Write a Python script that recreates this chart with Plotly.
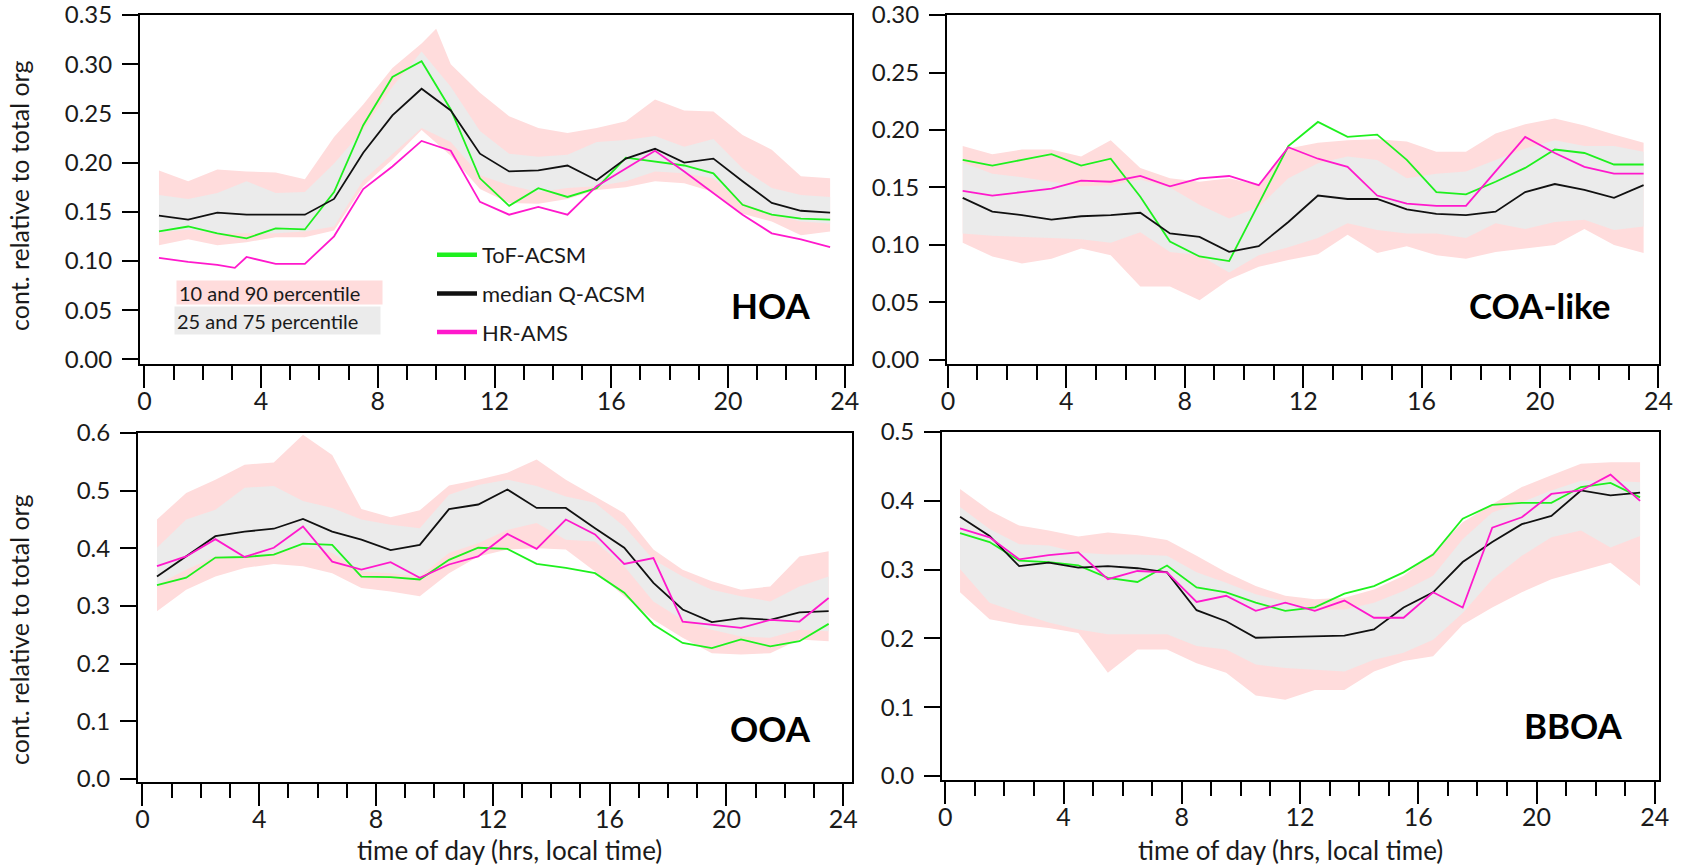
import plotly.graph_objects as go

W, H = 1687, 868

# ---------------- data ----------------
HOURS = [0.5, 1.5, 2.5, 3.5, 4.5, 5.5, 6.5, 7.5, 8.5, 9.5, 10.5, 11.5,
         12.5, 13.5, 14.5, 15.5, 16.5, 17.5, 18.5, 19.5, 20.5, 21.5, 22.5, 23.5]
HOA_AMS_HOURS = [0.5, 1.5, 2.5, 3.1, 3.5, 4.5, 5.5, 6.5, 7.5, 8.5, 9.5, 10.5, 11.5,
                 12.5, 13.5, 14.5, 15.5, 16.5, 17.5, 18.5, 19.5, 20.5, 21.5, 22.5, 23.5]
HOA_P90_HOURS = [0.5, 1.5, 2.5, 3.5, 4.5, 5.5, 6.5, 7.5, 8.5, 9.5, 10.0, 10.5, 11.5,
                 12.5, 13.5, 14.5, 15.5, 16.5, 17.5, 18.5, 19.5, 20.5, 21.5, 22.5, 23.5]

# HOA
hoa_tof = [0.130, 0.135, 0.128, 0.123, 0.133, 0.132, 0.170, 0.238, 0.287, 0.303, 0.254, 0.184,
           0.156, 0.174, 0.165, 0.174, 0.205, 0.201, 0.197, 0.189, 0.157, 0.147, 0.143, 0.142]
hoa_med = [0.146, 0.142, 0.149, 0.147, 0.147, 0.147, 0.163, 0.210, 0.248, 0.275, 0.253, 0.209,
           0.191, 0.192, 0.197, 0.182, 0.204, 0.214, 0.200, 0.204, 0.181, 0.159, 0.151, 0.149]
hoa_ams = [0.103, 0.099, 0.096, 0.093, 0.104, 0.097, 0.097, 0.125, 0.173, 0.196, 0.222, 0.212, 0.160,
           0.147, 0.155, 0.147, 0.176, 0.194, 0.212, 0.191, 0.169, 0.147, 0.128, 0.122, 0.114]
hoa_p90 = [0.192, 0.181, 0.193, 0.191, 0.190, 0.183, 0.226, 0.259, 0.296, 0.321, 0.336, 0.300, 0.271,
           0.247, 0.235, 0.230, 0.235, 0.242, 0.264, 0.253, 0.252, 0.228, 0.213, 0.186, 0.184]
hoa_p75 = [0.167, 0.163, 0.169, 0.181, 0.169, 0.170, 0.199, 0.233, 0.277, 0.313, 0.277, 0.232,
           0.209, 0.206, 0.208, 0.221, 0.223, 0.227, 0.216, 0.224, 0.194, 0.174, 0.167, 0.165]
hoa_p25 = [0.129, 0.132, 0.128, 0.128, 0.128, 0.130, 0.135, 0.182, 0.209, 0.235, 0.221, 0.187,
           0.177, 0.170, 0.174, 0.176, 0.181, 0.191, 0.189, 0.184, 0.159, 0.147, 0.140, 0.138]
hoa_p10 = [0.116, 0.122, 0.116, 0.119, 0.124, 0.124, 0.131, 0.176, 0.203, 0.233, 0.207, 0.173,
           0.159, 0.158, 0.163, 0.172, 0.175, 0.181, 0.179, 0.170, 0.148, 0.140, 0.126, 0.130]

# COA-like
coa_tof = [0.174, 0.169, 0.174, 0.179, 0.169, 0.175, 0.142, 0.103, 0.090, 0.086, 0.136, 0.186,
           0.207, 0.194, 0.196, 0.174, 0.146, 0.144, 0.155, 0.167, 0.183, 0.180, 0.170, 0.170]
coa_med = [0.141, 0.129, 0.126, 0.122, 0.125, 0.126, 0.128, 0.110, 0.107, 0.094, 0.099, 0.120,
           0.143, 0.140, 0.140, 0.131, 0.127, 0.126, 0.129, 0.146, 0.153, 0.148, 0.141, 0.152]
coa_ams = [0.147, 0.143, 0.146, 0.149, 0.156, 0.155, 0.160, 0.151, 0.158, 0.160, 0.152, 0.185,
           0.175, 0.168, 0.143, 0.136, 0.134, 0.134, 0.164, 0.194, 0.180, 0.168, 0.162, 0.162]
coa_p90 = [0.186, 0.179, 0.183, 0.183, 0.177, 0.191, 0.167, 0.158, 0.155, 0.158, 0.152, 0.184,
           0.189, 0.191, 0.192, 0.190, 0.181, 0.181, 0.197, 0.205, 0.210, 0.204, 0.196, 0.189]
coa_p75 = [0.172, 0.162, 0.159, 0.155, 0.151, 0.152, 0.157, 0.150, 0.135, 0.123, 0.133, 0.158,
           0.171, 0.177, 0.174, 0.158, 0.162, 0.164, 0.174, 0.184, 0.191, 0.186, 0.186, 0.181]
coa_p25 = [0.110, 0.108, 0.107, 0.106, 0.105, 0.102, 0.111, 0.094, 0.091, 0.076, 0.091, 0.098,
           0.106, 0.119, 0.113, 0.110, 0.110, 0.106, 0.119, 0.114, 0.120, 0.122, 0.113, 0.116]
coa_p10 = [0.102, 0.090, 0.084, 0.088, 0.097, 0.091, 0.064, 0.064, 0.052, 0.070, 0.081, 0.087,
           0.092, 0.109, 0.093, 0.099, 0.091, 0.088, 0.094, 0.097, 0.100, 0.114, 0.100, 0.093]

# OOA
ooa_tof = [0.336, 0.349, 0.384, 0.385, 0.389, 0.408, 0.406, 0.351, 0.350, 0.346, 0.380, 0.401,
           0.399, 0.373, 0.366, 0.357, 0.323, 0.268, 0.236, 0.227, 0.242, 0.230, 0.239, 0.269]
ooa_med = [0.351, 0.386, 0.421, 0.429, 0.434, 0.451, 0.429, 0.415, 0.397, 0.406, 0.468, 0.476,
           0.502, 0.470, 0.470, 0.435, 0.401, 0.340, 0.294, 0.272, 0.279, 0.276, 0.289, 0.291]
ooa_ams = [0.369, 0.386, 0.416, 0.385, 0.401, 0.438, 0.377, 0.363, 0.376, 0.349, 0.372, 0.386,
           0.425, 0.399, 0.450, 0.424, 0.373, 0.383, 0.273, 0.268, 0.262, 0.276, 0.273, 0.314]
ooa_p90 = [0.450, 0.496, 0.519, 0.545, 0.549, 0.597, 0.562, 0.468, 0.454, 0.466, 0.509, 0.519,
           0.531, 0.554, 0.519, 0.490, 0.461, 0.398, 0.363, 0.343, 0.328, 0.334, 0.386, 0.395]
ooa_p75 = [0.401, 0.450, 0.467, 0.505, 0.508, 0.482, 0.470, 0.450, 0.441, 0.435, 0.493, 0.510,
           0.519, 0.508, 0.490, 0.479, 0.438, 0.380, 0.351, 0.328, 0.317, 0.308, 0.334, 0.351]
ooa_p25 = [0.337, 0.363, 0.386, 0.386, 0.392, 0.403, 0.392, 0.360, 0.357, 0.351, 0.392, 0.409,
           0.432, 0.444, 0.415, 0.412, 0.369, 0.308, 0.276, 0.259, 0.247, 0.245, 0.259, 0.256]
ooa_p10 = [0.291, 0.328, 0.351, 0.366, 0.373, 0.369, 0.357, 0.331, 0.325, 0.317, 0.357, 0.386,
           0.398, 0.400, 0.398, 0.360, 0.317, 0.276, 0.245, 0.218, 0.216, 0.218, 0.242, 0.239]

# BBOA
bb_tof = [0.353, 0.340, 0.313, 0.311, 0.306, 0.288, 0.282, 0.306, 0.274, 0.267, 0.252, 0.240,
          0.245, 0.265, 0.276, 0.296, 0.322, 0.374, 0.394, 0.397, 0.397, 0.420, 0.426, 0.405]
bb_med = [0.377, 0.349, 0.305, 0.310, 0.303, 0.305, 0.302, 0.296, 0.241, 0.225, 0.201, 0.202,
          0.204, 0.204, 0.213, 0.245, 0.267, 0.311, 0.340, 0.366, 0.378, 0.415, 0.408, 0.412]
bb_ams = [0.360, 0.347, 0.315, 0.321, 0.325, 0.286, 0.298, 0.296, 0.253, 0.262, 0.240, 0.252,
          0.240, 0.255, 0.230, 0.230, 0.267, 0.245, 0.361, 0.376, 0.410, 0.415, 0.438, 0.400]
bb_p90 = [0.417, 0.386, 0.364, 0.357, 0.348, 0.354, 0.350, 0.343, 0.320, 0.296, 0.276, 0.262,
          0.257, 0.259, 0.271, 0.291, 0.325, 0.369, 0.395, 0.420, 0.437, 0.454, 0.456, 0.456]
bb_p75 = [0.391, 0.359, 0.337, 0.335, 0.325, 0.322, 0.322, 0.320, 0.296, 0.281, 0.264, 0.254,
          0.242, 0.242, 0.252, 0.269, 0.291, 0.344, 0.383, 0.398, 0.415, 0.429, 0.429, 0.427]
bb_p25 = [0.301, 0.252, 0.237, 0.223, 0.213, 0.206, 0.206, 0.206, 0.189, 0.184, 0.162, 0.157,
          0.155, 0.152, 0.169, 0.179, 0.198, 0.237, 0.286, 0.320, 0.347, 0.357, 0.332, 0.349]
bb_p10 = [0.267, 0.228, 0.220, 0.215, 0.208, 0.150, 0.184, 0.184, 0.164, 0.150, 0.117, 0.111,
          0.125, 0.125, 0.152, 0.167, 0.174, 0.220, 0.245, 0.267, 0.286, 0.298, 0.310, 0.276]

X_TICKS = [0, 4, 8, 12, 16, 20, 24]
SERIES_NAMES = ["ToF-ACSM", "median Q-ACSM", "HR-AMS"]
PANEL_LABELS = ["HOA", "COA-like", "OOA", "BBOA"]
BAND_LABELS = ["10 and 90 percentile", "25 and 75 percentile"]
X_TITLE = "time of day (hrs, local time)"
Y_TITLE = "cont. relative to total org"

# ---------------- styling ----------------
GREEN = "#1ef01e"
BLACK = "#111111"
MAGENTA = "#ff19cc"
PINK = "#ffdcdc"
GRAY = "#ebebeb"
TXT = "#1a1a1a"
FONT = "Lato"

panels = [
    dict(label=PANEL_LABELS[0], tof=hoa_tof, med=hoa_med, ams=hoa_ams, ams_x=HOA_AMS_HOURS,
         p90=hoa_p90, p90_x=HOA_P90_HOURS, p75=hoa_p75, p25=hoa_p25, p10=hoa_p10,
         box=(140, 852, 15, 364), xr=[-0.15, 24.25], yr=[-0.0048, 0.35], dt=0.05, fmt=".2f",
         lab=(770, 305)),
    dict(label=PANEL_LABELS[1], tof=coa_tof, med=coa_med, ams=coa_ams, ams_x=HOURS,
         p90=coa_p90, p90_x=HOURS, p75=coa_p75, p25=coa_p25, p10=coa_p10,
         box=(947, 1659, 15, 364), xr=[-0.03, 24.02], yr=[-0.0035, 0.30], dt=0.05, fmt=".2f",
         lab=(1540, 305)),
    dict(label=PANEL_LABELS[2], tof=ooa_tof, med=ooa_med, ams=ooa_ams, ams_x=HOURS,
         p90=ooa_p90, p90_x=HOURS, p75=ooa_p75, p25=ooa_p25, p10=ooa_p10,
         box=(138, 852, 433, 782), xr=[-0.15, 24.3], yr=[-0.0052, 0.6], dt=0.1, fmt=".1f",
         lab=(770, 728)),
    dict(label=PANEL_LABELS[3], tof=bb_tof, med=bb_med, ams=bb_ams, ams_x=HOURS,
         p90=bb_p90, p90_x=HOURS, p75=bb_p75, p25=bb_p25, p10=bb_p10,
         box=(942, 1659, 432, 780), xr=[-0.11, 24.14], yr=[-0.0058, 0.5], dt=0.1, fmt=".1f",
         lab=(1573, 725)),
]

fig = go.Figure()
layout = {}
annotations = []

for i, p in enumerate(panels):
    n = "" if i == 0 else str(i + 1)
    xa, ya = "x" + n, "y" + n
    # bands
    fig.add_trace(go.Scatter(
        x=p["p90_x"] + HOURS[::-1], y=p["p90"] + p["p10"][::-1],
        fill="toself", fillcolor=PINK, mode="lines", line=dict(width=0),
        hoverinfo="skip", showlegend=False, xaxis=xa, yaxis=ya))
    fig.add_trace(go.Scatter(
        x=HOURS + HOURS[::-1], y=p["p75"] + p["p25"][::-1],
        fill="toself", fillcolor=GRAY, mode="lines", line=dict(width=0),
        hoverinfo="skip", showlegend=False, xaxis=xa, yaxis=ya))
    # lines
    for name, xs, ys, col in [(SERIES_NAMES[0], HOURS, p["tof"], GREEN),
                              (SERIES_NAMES[1], HOURS, p["med"], BLACK),
                              (SERIES_NAMES[2], p["ams_x"], p["ams"], MAGENTA)]:
        fig.add_trace(go.Scatter(
            x=xs, y=ys, mode="lines", name=name, legendgroup=name,
            line=dict(color=col, width=1.8), showlegend=False,
            xaxis=xa, yaxis=ya))

    l, r, t, b = p["box"]
    layout["xaxis" + n] = dict(
        domain=[l / W, r / W], range=p["xr"], anchor=ya, automargin=False,
        tickmode="array", tickvals=X_TICKS, ticks="outside", ticklen=22, tickwidth=2,
        tickcolor="black", showline=True, linecolor="black", linewidth=2, mirror=True,
        showgrid=False, zeroline=False, ticklabelstandoff=-8, ticklabeloverflow="allow",
        minor=dict(dtick=1, tick0=0, ticks="outside", ticklen=14, tickwidth=2,
                   tickcolor="black", showgrid=False),
        tickfont=dict(family=FONT, size=25, color=TXT))
    layout["yaxis" + n] = dict(
        domain=[1 - b / H, 1 - t / H], range=p["yr"], anchor=xa, automargin=False,
        tick0=0, dtick=p["dt"], tickformat=p["fmt"], ticks="outside", ticklen=16,
        tickwidth=2, tickcolor="black", showline=True, linecolor="black", linewidth=2,
        mirror=True, showgrid=False, zeroline=False, ticklabelstandoff=5,
        ticklabeloverflow="allow",
        tickfont=dict(family=FONT, size=24, color=TXT))

    annotations.append(dict(
        text="<b>" + p["label"] + "</b>", xref="paper", yref="paper",
        x=p["lab"][0] / W, y=1 - p["lab"][1] / H, xanchor="center", yanchor="middle",
        showarrow=False, font=dict(family=FONT, size=35, color="black")))

# legend entries (thicker sample lines, as in the reference legend)
for name, col in zip(SERIES_NAMES, [GREEN, BLACK, MAGENTA]):
    fig.add_trace(go.Scatter(
        x=[None], y=[None], mode="lines", name=name, legendgroup=name,
        line=dict(color=col, width=4.5), showlegend=True, hoverinfo="skip"))

# percentile legend boxes
annotations.append(dict(
    text=BAND_LABELS[0], xref="paper", yref="paper", x=176 / W, y=1 - 292.5 / H,
    xanchor="left", yanchor="middle", showarrow=False, align="left",
    bgcolor=PINK, width=201, height=19, borderpad=2,
    font=dict(family=FONT, size=20, color=TXT)))
annotations.append(dict(
    text=BAND_LABELS[1], xref="paper", yref="paper", x=174 / W, y=1 - 320.5 / H,
    xanchor="left", yanchor="middle", showarrow=False, align="left",
    bgcolor=GRAY, width=201, height=23, borderpad=2,
    font=dict(family=FONT, size=20, color=TXT)))

# axis titles
for cy in (196, 630):
    annotations.append(dict(
        text=Y_TITLE, xref="paper", yref="paper", x=19 / W, y=1 - cy / H,
        xanchor="center", yanchor="middle", textangle=-90, showarrow=False,
        font=dict(family=FONT, size=25, color=TXT)))
for cx in (510, 1290):
    annotations.append(dict(
        text=X_TITLE, xref="paper", yref="paper", x=cx / W, y=1 - 850 / H,
        xanchor="center", yanchor="middle", showarrow=False,
        font=dict(family=FONT, size=26, color=TXT)))

fig.update_layout(
    width=W, height=H, margin=dict(l=0, r=0, t=0, b=0, autoexpand=False),
    paper_bgcolor="white", plot_bgcolor="rgba(0,0,0,0)",
    showlegend=True,
    legend=dict(x=432 / W, y=1 - 234 / H, xanchor="left", yanchor="top",
                bgcolor="rgba(0,0,0,0)", traceorder="grouped", tracegroupgap=7,
                itemwidth=40, font=dict(family=FONT, size=22, color=TXT)),
    annotations=annotations,
    **layout)

fig.write_html("out.html")
